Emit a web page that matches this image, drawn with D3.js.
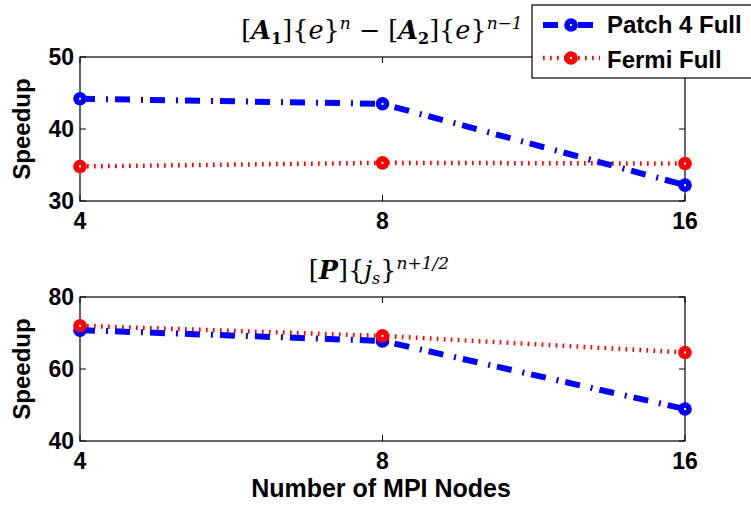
<!DOCTYPE html>
<html>
<head>
<meta charset="utf-8">
<script src="https://cdn.jsdelivr.net/npm/d3@7"></script>
<style>
  html, body { margin: 0; padding: 0; background: #fff; }
  svg { display: block; }
</style>
</head>
<body>
<svg id="chart" width="751" height="506"></svg>
<script>
// MPI node counts along the x axis
const nodes = [4, 8, 16];
const xTickLabels = ["4", "8", "16"];

// Speedup for the [A1]{e}^n - [A2]{e}^(n-1) kernel
const topPatch = [44.2, 43.5, 32.2];
const topFermi = [34.8, 35.3, 35.2];
const topTicks = [30, 40, 50];

// Speedup for the [P]{j_s}^(n+1/2) kernel
const botPatch = [70.8, 67.8, 48.9];
const botFermi = [72.0, 69.2, 64.6];
const botTicks = [40, 60, 80];

const seriesNames = ["Patch 4 Full", "Fermi Full"];

const svg = d3.select("#chart");
const left = 80, right = 685;
const x = d3.scaleLog().base(2).domain([4, 16]).range([left, right]);

const sans = "Liberation Sans, Arial, sans-serif";
const blue = "#0000ff", red = "#ff0000";
const blueDash = "15,11,2,7";
const redDash = "1.7,5.3";

function marker(g, cx, cy, color) {
  g.append("circle").attr("cx", cx).attr("cy", cy).attr("r", 6.8).attr("fill", color);
  g.append("rect").attr("x", cx - 1).attr("y", cy - 1).attr("width", 2).attr("height", 2).attr("fill", "#fff");
}

function panel(top, bottom, domain, ticks, patch, fermi) {
  const y = d3.scaleLinear().domain(domain).range([bottom, top]);
  const g = svg.append("g");

  // frame
  g.append("rect").attr("x", left).attr("y", top).attr("width", right - left).attr("height", bottom - top)
    .attr("fill", "none").attr("stroke", "#000").attr("stroke-width", 1.2);

  // inward ticks on all four sides
  ticks.forEach(t => {
    g.append("line").attr("x1", left).attr("x2", left + 6).attr("y1", y(t)).attr("y2", y(t)).attr("stroke", "#000");
    g.append("line").attr("x1", right - 6).attr("x2", right).attr("y1", y(t)).attr("y2", y(t)).attr("stroke", "#000");
    g.append("text").attr("x", left - 6).attr("y", y(t)).attr("dy", "0.36em")
      .attr("text-anchor", "end").attr("font-family", sans)
      .attr("font-weight", "bold").attr("font-size", 23).text(t);
  });
  nodes.forEach((n, i) => {
    g.append("line").attr("x1", x(n)).attr("x2", x(n)).attr("y1", bottom).attr("y2", bottom - 6).attr("stroke", "#000");
    g.append("line").attr("x1", x(n)).attr("x2", x(n)).attr("y1", top).attr("y2", top + 6).attr("stroke", "#000");
    g.append("text").attr("x", x(n)).attr("y", bottom + 28)
      .attr("text-anchor", "middle").attr("font-family", sans)
      .attr("font-weight", "bold").attr("font-size", 23).text(xTickLabels[i]);
  });

  g.append("text").attr("transform", `translate(30,${(top + bottom) / 2}) rotate(-90)`)
    .attr("text-anchor", "middle").attr("font-family", sans)
    .attr("font-weight", "bold").attr("font-size", 24).text("Speedup");

  const line = d3.line().x((d, i) => x(nodes[i])).y(d => y(d));

  g.append("path").datum(fermi).attr("d", line).attr("fill", "none")
    .attr("stroke", red).attr("stroke-width", 4.5).attr("stroke-dasharray", redDash);
  g.append("path").datum(patch).attr("d", line).attr("fill", "none")
    .attr("stroke", blue).attr("stroke-width", 6).attr("stroke-dasharray", blueDash);

  patch.forEach((v, i) => marker(g, x(nodes[i]), y(v), blue));
  fermi.forEach((v, i) => marker(g, x(nodes[i]), y(v), red));
  return g;
}

panel(57, 201, [30, 50], topTicks, topPatch, topFermi);
panel(297, 441, [40, 80], botTicks, botPatch, botFermi);

// titles set in a math-like serif
const serif = "DejaVu Serif, Liberation Serif, serif";
const t1 = svg.append("text").attr("x", 382).attr("y", 39).attr("text-anchor", "middle")
  .attr("font-family", serif).attr("font-size", 25.5);
t1.append("tspan").text("[");
t1.append("tspan").attr("font-style", "italic").attr("font-weight", "bold").text("A");
t1.append("tspan").attr("font-size", 16).attr("dy", 5).attr("font-weight", "bold").text("1");
t1.append("tspan").attr("dy", -5).text("]{");
t1.append("tspan").attr("font-style", "italic").text("e");
t1.append("tspan").text("}");
t1.append("tspan").attr("font-style", "italic").attr("font-size", 17).attr("dy", -10).text("n");
t1.append("tspan").attr("dy", 10).text(" − [");
t1.append("tspan").attr("font-style", "italic").attr("font-weight", "bold").text("A");
t1.append("tspan").attr("font-size", 16).attr("dy", 5).attr("font-weight", "bold").text("2");
t1.append("tspan").attr("dy", -5).text("]{");
t1.append("tspan").attr("font-style", "italic").text("e");
t1.append("tspan").text("}");
t1.append("tspan").attr("font-style", "italic").attr("font-size", 17).attr("dy", -10).text("n−1");

const t2 = svg.append("text").attr("x", 379).attr("y", 279).attr("text-anchor", "middle")
  .attr("font-family", serif).attr("font-size", 25.5);
t2.append("tspan").text("[");
t2.append("tspan").attr("font-style", "italic").attr("font-weight", "bold").text("P");
t2.append("tspan").text("]{");
t2.append("tspan").attr("font-style", "italic").text("j");
t2.append("tspan").attr("font-style", "italic").attr("font-size", 16).attr("dy", 5).text("s");
t2.append("tspan").attr("dy", -5).text("}");
t2.append("tspan").attr("font-style", "italic").attr("font-size", 17).attr("dy", -10).text("n+1/2");

// x axis label
svg.append("text").attr("x", 381).attr("y", 497).attr("text-anchor", "middle")
  .attr("font-family", sans).attr("font-weight", "bold")
  .attr("font-size", 25).text("Number of MPI Nodes");

// legend
const lg = svg.append("g");
lg.append("rect").attr("x", 532).attr("y", 5).attr("width", 240).attr("height", 73)
  .attr("fill", "#fff").attr("stroke", "#000").attr("stroke-width", 1.2);
const legendRows = [
  { name: seriesNames[0], color: blue, dash: blueDash, w: 6, y: 25, base: 33 },
  { name: seriesNames[1], color: red, dash: redDash, w: 4.5, y: 58, base: 68 }
];
legendRows.forEach(r => {
  lg.append("line").attr("x1", 543).attr("x2", 600).attr("y1", r.y).attr("y2", r.y)
    .attr("stroke", r.color).attr("stroke-width", r.w).attr("stroke-dasharray", r.dash);
  marker(lg, 571, r.y, r.color);
  lg.append("text").attr("x", 607).attr("y", r.base)
    .attr("font-family", sans).attr("font-weight", "bold")
    .attr("font-size", 24).text(r.name);
});
</script>
</body>
</html>
